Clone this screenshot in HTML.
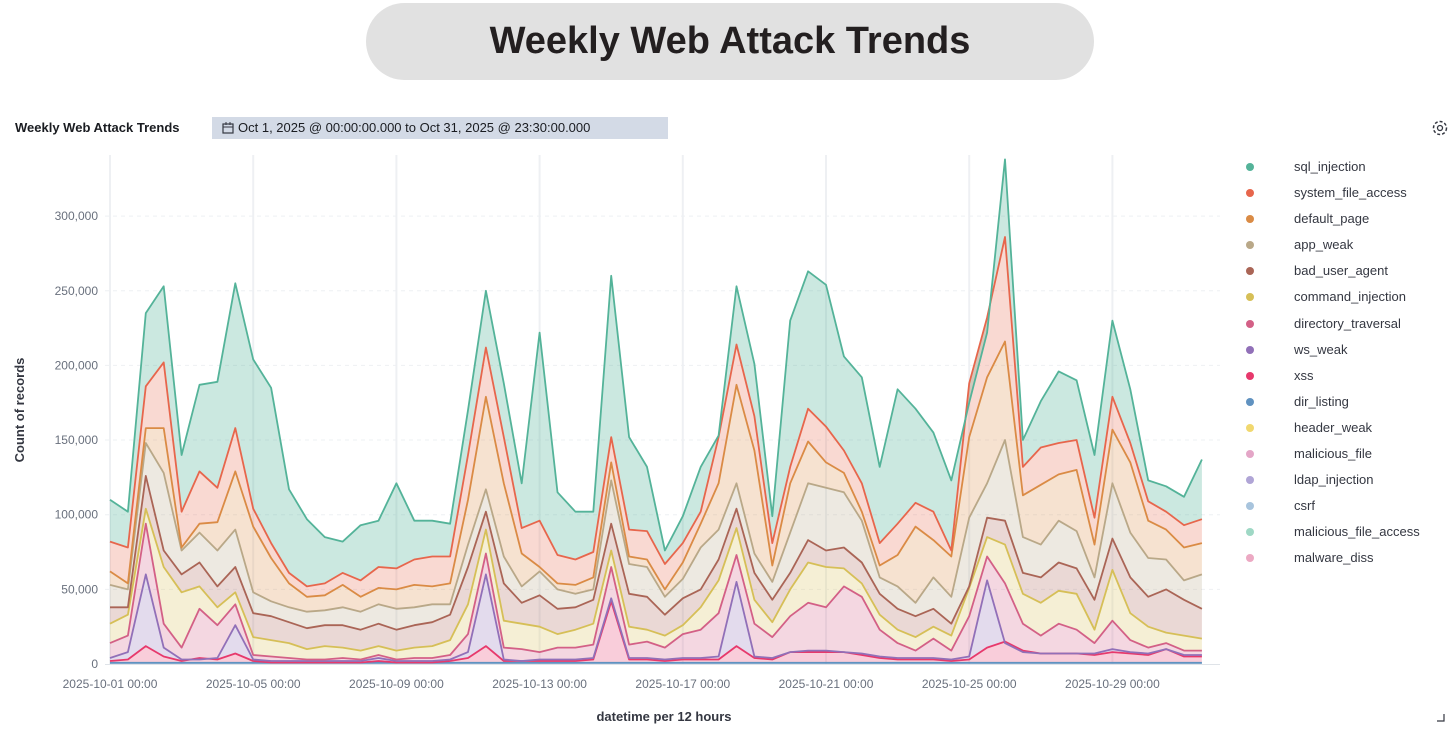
<!DOCTYPE html>
<html><head><meta charset="utf-8"><style>
body{margin:0;width:1453px;height:729px;background:#fff;overflow:hidden;font-family:"Liberation Sans",sans-serif;position:relative}
.pill{position:absolute;left:366px;top:3px;width:728px;height:77px;border-radius:39px;background:#e1e1e1;text-align:center;line-height:77px;font-size:38px;font-weight:bold;color:#231f20}
.hdr{position:absolute;left:15px;top:120px;font-size:13px;font-weight:bold;color:#1a1c21}
.badge{position:absolute;left:212px;top:117px;width:456px;height:22px;background:#d3dae6;font-size:13px;line-height:22px;color:#1a1c21;padding-left:26px;box-sizing:border-box}
.legend{position:absolute;left:1244px;top:158px;font-size:13px;color:#343741}
.legend div{height:26.1px;position:relative;padding-left:50px;line-height:18px}
.legend span{position:absolute;left:2px;top:5px;width:8px;height:8px;border-radius:50%}
</style></head><body>
<div class="pill">Weekly Web Attack Trends</div>
<div class="hdr">Weekly Web Attack Trends</div>
<div class="badge"><svg style="position:absolute;left:10px;top:5px" width="12" height="12"><rect x="1" y="2" width="10" height="9" fill="none" stroke="#343741" stroke-width="1.2"/><line x1="1" y1="5" x2="11" y2="5" stroke="#343741"/><line x1="4" y1="0" x2="4" y2="3" stroke="#343741"/><line x1="8" y1="0" x2="8" y2="3" stroke="#343741"/></svg>Oct 1, 2025 @ 00:00:00.000 to Oct 31, 2025 @ 23:30:00.000</div>
<svg style="position:absolute;left:1430px;top:118px" width="20" height="20"><circle cx="10" cy="10" r="6.5" fill="none" stroke="#343741" stroke-width="1.5" stroke-dasharray="3 2"/><circle cx="10" cy="10" r="2.5" fill="none" stroke="#343741" stroke-width="1.3"/></svg>
<svg id="ch" style="position:absolute;left:0;top:0" width="1453" height="729"></svg>
<div class="legend">
<div><span style="background:#54B399"></span>sql_injection</div>
<div><span style="background:#E7664C"></span>system_file_access</div>
<div><span style="background:#DA8B45"></span>default_page</div>
<div><span style="background:#B9A888"></span>app_weak</div>
<div><span style="background:#AA6556"></span>bad_user_agent</div>
<div><span style="background:#D6BF57"></span>command_injection</div>
<div><span style="background:#D36086"></span>directory_traversal</div>
<div><span style="background:#9170B8"></span>ws_weak</div>
<div><span style="background:#E7396C"></span>xss</div>
<div><span style="background:#6092C0"></span>dir_listing</div>
<div><span style="background:#F1D86F"></span>header_weak</div>
<div><span style="background:#E4A6C7"></span>malicious_file</div>
<div><span style="background:#B0A5D6"></span>ldap_injection</div>
<div><span style="background:#A8C4DD"></span>csrf</div>
<div><span style="background:#9FD8C5"></span>malicious_file_access</div>
<div><span style="background:#ECA9C3"></span>malware_diss</div>
</div>
<script>
(function(){
var L=[
["#54B399",[110,102,235,253,140,187,189,255,204,185,117,97,85,82,93,96,121,96,96,94,170,250,188,121,222,115,102,102,260,152,132,76,99,132,153,253,201,99,230,263,254,206,192,132,184,171,155,123,175,222,338,150,176,196,190,140,230,184,123,119,112,137]],
["#E7664C",[82,78,186,202,102,129,118,158,104,81,61,52,54,61,56,65,64,70,72,72,140,212,152,91,96,73,70,75,152,90,89,67,81,102,152,214,166,81,132,171,159,143,121,81,94,108,102,76,188,232,286,132,145,148,150,98,179,148,109,102,93,97]],
["#DA8B45",[62,54,158,158,78,94,95,129,92,71,54,45,46,53,45,51,50,53,52,54,110,179,121,74,65,54,53,58,135,72,70,50,68,94,121,187,143,66,121,149,135,128,102,66,73,92,83,72,152,192,216,113,120,127,130,80,157,135,96,90,78,81]],
["#B9A888",[53,50,148,128,76,88,76,90,48,42,38,35,36,38,35,40,37,38,40,40,80,117,72,52,62,50,47,50,123,67,65,45,57,78,90,121,74,55,88,121,118,115,96,58,52,41,58,45,98,121,150,85,80,96,89,58,121,88,71,70,56,60]],
["#AA6556",[38,38,126,76,60,68,52,65,34,32,28,24,26,26,23,27,23,26,28,33,65,102,54,41,46,37,38,43,94,47,45,33,44,50,70,104,61,43,61,83,76,78,68,47,37,32,37,27,52,98,96,61,58,68,64,43,84,58,45,50,43,37]],
["#D6BF57",[27,33,104,65,48,52,38,48,18,16,14,10,12,11,9,12,9,11,12,16,40,90,29,27,25,20,23,27,76,25,23,19,26,38,56,91,43,28,50,68,65,64,54,33,23,18,25,19,51,85,80,47,41,49,47,23,63,34,25,21,19,17]],
["#D36086",[14,19,94,27,11,37,26,40,6,5,4,3,3,4,3,6,3,4,4,6,20,74,11,10,8,11,11,13,65,13,15,11,20,23,34,73,27,18,32,41,38,52,45,23,14,9,17,9,32,72,54,27,19,27,23,14,29,16,11,14,9,9]],
["#9170B8",[4,8,60,11,3,3,4,26,3,2,2,2,2,2,2,4,2,2,2,3,8,60,3,2,3,3,3,4,44,4,4,3,4,4,5,55,5,4,8,9,9,8,7,5,4,4,4,3,5,56,14,8,7,7,7,7,10,8,7,10,6,6]],
["#E7396C",[2,3,12,5,2,4,3,7,2,1,1,1,1,1,1,2,1,1,1,2,4,12,2,2,2,2,2,3,42,3,3,2,3,3,3,12,4,3,8,8,8,8,6,4,3,3,3,2,3,11,15,9,7,7,7,6,8,7,6,10,5,5]],
["#6092C0",new Array(62).fill(0.8)]
];
var NS="http://www.w3.org/2000/svg",s=document.getElementById("ch");
function el(t,a,txt){var e=document.createElementNS(NS,t);for(var k in a)e.setAttribute(k,a[k]);if(txt)e.textContent=txt;s.appendChild(e);return e;}
function X(i){return 110+17.9*i}function Y(v){return 664-v*1.493}
for(var k=1;k<=6;k++){var y=Y(k*50);el("line",{x1:105,x2:1220,y1:y,y2:y,stroke:"#eef0f3","stroke-dasharray":"4 4"});}
var dates=["2025-10-01 00:00","2025-10-05 00:00","2025-10-09 00:00","2025-10-13 00:00","2025-10-17 00:00","2025-10-21 00:00","2025-10-25 00:00","2025-10-29 00:00"];
for(var d=0;d<8;d++){var x=X(d*8);el("line",{x1:x,x2:x,y1:155,y2:664,stroke:"#eef0f3","stroke-width":2});
el("text",{x:x,y:688,"text-anchor":"middle","font-size":"12","fill":"#69707d","font-family":"Liberation Sans"},dates[d]);}
for(var k=0;k<=6;k++){el("text",{x:98,y:Y(k*50)+4,"text-anchor":"end","font-size":"12","fill":"#69707d","font-family":"Liberation Sans"},k==0?"0":(k*50)+",000");}
for(var j=0;j<L.length;j++){var tp=L[j][1],bt=j+1<L.length?L[j+1][1]:null,p="M",i;
for(i=0;i<62;i++)p+=(i?"L":"")+X(i).toFixed(1)+","+Y(tp[i]).toFixed(1);
for(i=61;i>=0;i--)p+="L"+X(i).toFixed(1)+","+(bt?Y(bt[i]):664).toFixed(1);
el("path",{d:p+"Z",fill:L[j][0],"fill-opacity":j==0?0.3:0.25,stroke:"none"});}
for(var j=L.length-1;j>=0;j--){var tp=L[j][1],p="M";for(var i=0;i<62;i++)p+=(i?"L":"")+X(i).toFixed(1)+","+Y(tp[i]).toFixed(1);
el("path",{d:p,fill:"none",stroke:L[j][0],"stroke-width":1.8,"stroke-linejoin":"round"});}
el("line",{x1:105,x2:1220,y1:664.5,y2:664.5,stroke:"#dfe3e8"});
el("text",{x:664,y:721,"text-anchor":"middle","font-size":"13","font-weight":"bold","fill":"#343741","font-family":"Liberation Sans"},"datetime per 12 hours");
el("text",{x:24,y:410,"text-anchor":"middle","font-size":"13","font-weight":"bold","fill":"#343741","font-family":"Liberation Sans",transform:"rotate(-90 24 410)"},"Count of records");
el("path",{d:"M1437 721 L1444 721 L1444 714",fill:"none",stroke:"#343741","stroke-width":1.2});
})();
</script>
</body></html>
